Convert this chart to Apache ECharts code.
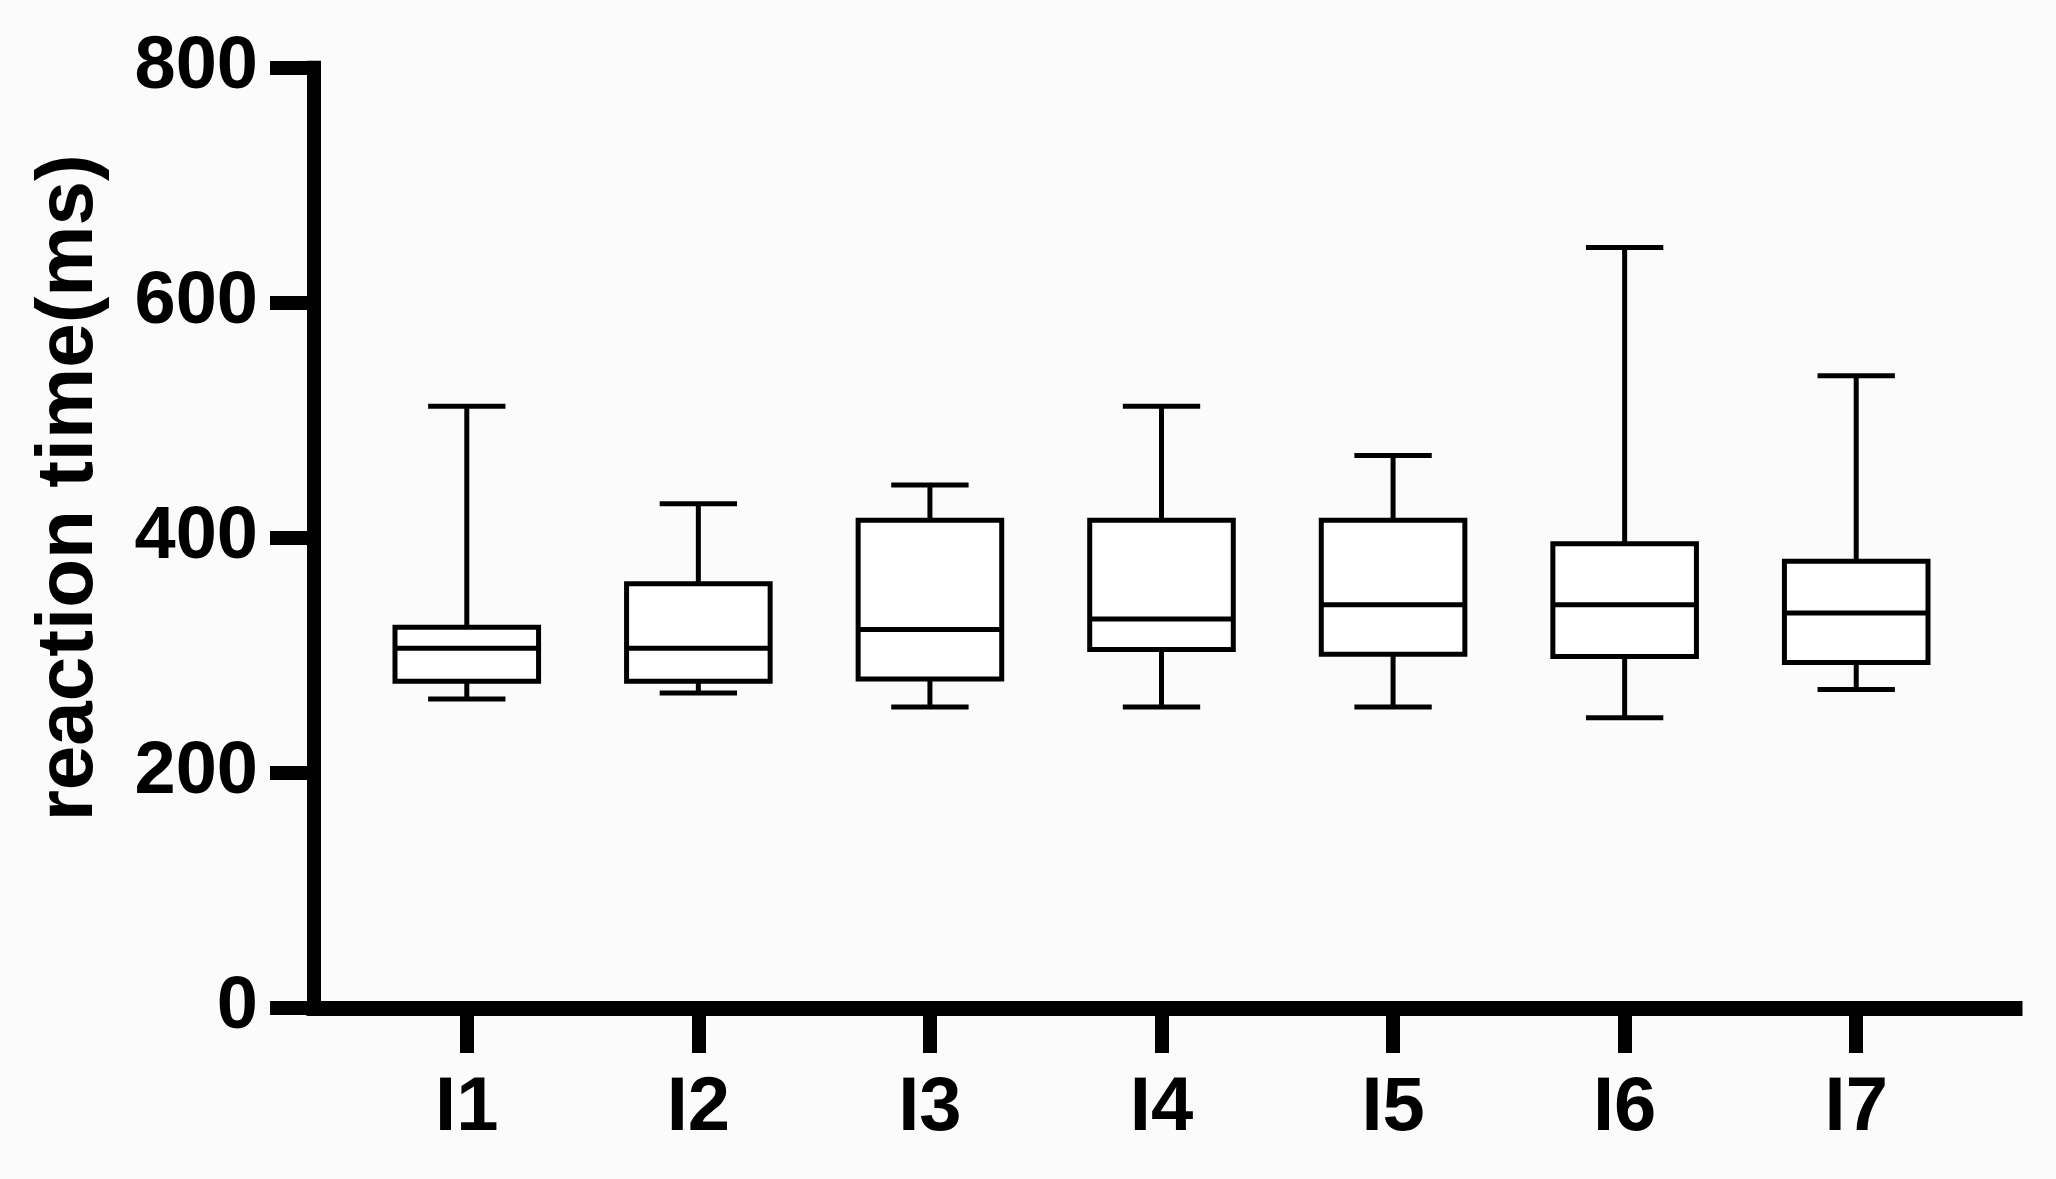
<!DOCTYPE html>
<html>
<head>
<meta charset="utf-8">
<script src="https://cdn.jsdelivr.net/npm/echarts@6/dist/echarts.min.js"></script>
<style>
html,body{margin:0;padding:0;background:#fbfbfb;}
#chart{width:2056px;height:1179px;}
</style>
</head>
<body>
<div id="chart"></div>
<script>
// ---- data ----
var categories = ['I1', 'I2', 'I3', 'I4', 'I5', 'I6', 'I7'];
var mins    = [263, 268, 256, 256, 256, 247, 271];
var q1s     = [278, 278, 280, 305, 301, 299, 294];
var medians = [306, 306, 322, 331, 343, 343, 336];
var q3s     = [324, 361, 415, 415, 415, 395, 380];
var maxs    = [512, 429, 445, 512, 470, 647, 538];
var yTicks  = [0, 200, 400, 600, 800];
var yTitle  = 'reaction time(ms)';

var boxData = categories.map(function (c, i) {
  return [i, mins[i], q1s[i], medians[i], q3s[i], maxs[i]];
});

var FONT = '"Liberation Sans", Arial, Helvetica, sans-serif';
var LW = 5;

function renderBox(params, api) {
  var idx = api.value(0);
  var band = api.size([1, 0])[0];
  var half = band * 0.31;
  var capHalf = band * 0.167;
  var pMin = api.coord([idx, api.value(1)]);
  var pQ1 = api.coord([idx, api.value(2)]);
  var pMed = api.coord([idx, api.value(3)]);
  var pQ3 = api.coord([idx, api.value(4)]);
  var pMax = api.coord([idx, api.value(5)]);
  var cx = pMed[0];
  var ls = { stroke: '#000', lineWidth: LW, fill: null };
  return {
    type: 'group',
    children: [
      { type: 'line', shape: { x1: cx, y1: pQ3[1], x2: cx, y2: pMax[1] }, style: ls },
      { type: 'line', shape: { x1: cx - capHalf, y1: pMax[1], x2: cx + capHalf, y2: pMax[1] }, style: ls },
      { type: 'line', shape: { x1: cx, y1: pQ1[1], x2: cx, y2: pMin[1] }, style: ls },
      { type: 'line', shape: { x1: cx - capHalf, y1: pMin[1], x2: cx + capHalf, y2: pMin[1] }, style: ls },
      { type: 'rect', shape: { x: cx - half, y: pQ3[1], width: half * 2, height: pQ1[1] - pQ3[1] },
        style: { fill: '#ffffff', stroke: '#000', lineWidth: LW } },
      { type: 'line', shape: { x1: cx - half, y1: pMed[1], x2: cx + half, y2: pMed[1] }, style: ls }
    ]
  };
}

var chart = echarts.init(document.getElementById('chart'), null, { renderer: 'canvas' });
chart.setOption({
  backgroundColor: '#fbfbfb',
  animation: false,
  grid: [
    { left: 351, right: 84, top: 67.7, bottom: 171 },
    { left: 314, right: 41, top: 67.7, bottom: 171 }
  ],
  xAxis: [
    {
      type: 'category', gridIndex: 0, data: categories,
      axisLine: { show: false },
      axisTick: { show: true, alignWithLabel: true, length: 45, lineStyle: { color: '#000', width: 14 } },
      axisLabel: { margin: 63, color: '#000', fontSize: 76, fontWeight: 'bold', fontFamily: FONT },
      splitLine: { show: false }
    },
    {
      type: 'value', gridIndex: 1, min: 0, max: 1,
      axisLine: { show: true, lineStyle: { color: '#000', width: 15, cap: 'square' } },
      axisTick: { show: false }, axisLabel: { show: false }, splitLine: { show: false }
    }
  ],
  yAxis: [
    {
      type: 'value', gridIndex: 0, min: 0, max: 800, interval: 200,
      axisLine: { show: false }, axisTick: { show: false }, axisLabel: { show: false },
      splitLine: { show: false }
    },
    {
      type: 'value', gridIndex: 1, min: yTicks[0], max: yTicks[yTicks.length - 1], interval: 200,
      axisLine: { show: true, lineStyle: { color: '#000', width: 14, cap: 'square' } },
      axisTick: { show: true, length: 44, lineStyle: { color: '#000', width: 14 } },
      axisLabel: { margin: 56, color: '#000', fontSize: 74, fontWeight: 'bold', fontFamily: FONT },
      splitLine: { show: false },
      name: yTitle, nameLocation: 'middle', nameRotate: 90, nameGap: 204,
      nameTextStyle: { color: '#000', fontSize: 80, fontWeight: 'bold', fontFamily: FONT, padding: [0, 0, 0, 100] }
    }
  ],
  series: [
    {
      type: 'custom', xAxisIndex: 0, yAxisIndex: 0,
      renderItem: renderBox,
      encode: { x: 0, y: [1, 2, 3, 4, 5] },
      data: boxData
    }
  ]
});
</script>
</body>
</html>
